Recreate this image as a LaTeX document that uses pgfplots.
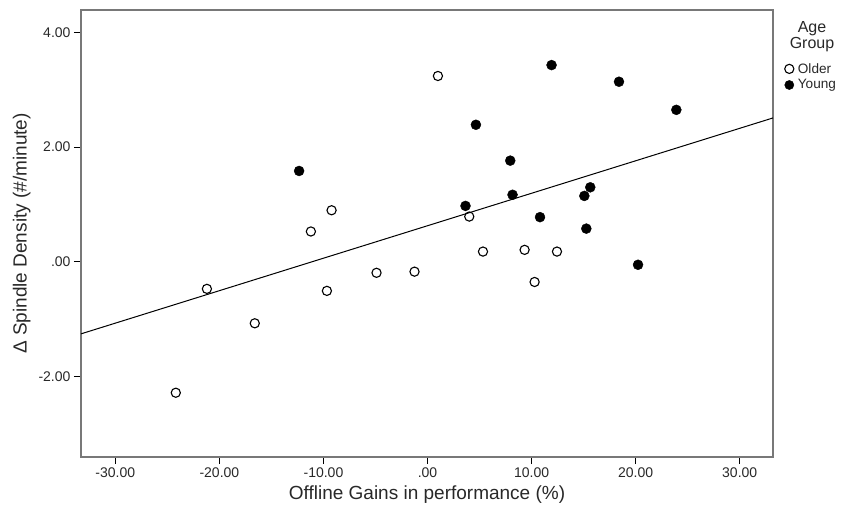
\documentclass[border=0pt]{standalone}
\usepackage{fontspec}
\setmainfont{Liberation Sans}
\usepackage{pgfplots}
\pgfplotsset{compat=1.18}
\definecolor{boxgray}{RGB}{120,120,120}
\definecolor{txt}{RGB}{40,40,40}
\begin{document}
\begin{tikzpicture}
\begin{axis}[
  name=ax,
  scale only axis,
  width=692pt, height=447pt,
  xmin=-33.3, xmax=33.2,
  ymin=-3.40, ymax=4.39,
  axis line style={boxgray, line width=1.2pt},
  xtick={-30,-20,-10,0,10,20,30},
  xticklabels={-30.00,-20.00,-10.00,.00,10.00,20.00,30.00},
  ytick={-2,0,2,4},
  yticklabels={-2.00,.00,2.00,4.00},
  tick align=outside,
  xtick pos=bottom, ytick pos=left,
  major tick length=7pt,
  tick style={black, line width=1pt},
  ticklabel style={font=\fontsize{14}{16}\selectfont, text=txt},
  xlabel={Offline Gains in performance (\%)},
  ylabel={Δ Spindle Density (\#/minute)},
  label style={font=\fontsize{19}{21}\selectfont, text=txt},
  xlabel style={yshift=-1pt},
  ylabel style={yshift=1pt},
  legend image code/.code={\draw[#1, mark size=4.6pt] plot coordinates {(0pt,0pt)};},
  legend style={at={(1.0,1.0)}, anchor=north west, draw=none, fill=none,
    font=\fontsize{13.6}{15}\selectfont, text=txt, inner sep=0pt, row sep=3pt,
    column sep=3pt,
    nodes={inner sep=1pt}, xshift=11.5pt, yshift=-52pt},
  legend cell align=left,
  clip=false,
]
\addplot[only marks, mark=o, mark size=4.6pt, mark options={line width=1.1pt, draw=black, fill=white}] coordinates {
(-24.19,-2.28) (-21.2,-0.47) (-16.6,-1.07) (-11.21,0.53) (-9.67,-0.505)
(-9.22,0.90) (-4.9,-0.19) (-1.25,-0.17) (1.0,3.24) (4.01,0.79)
(5.33,0.18) (9.33,0.21) (10.29,-0.35) (12.44,0.18)
};
\addlegendentry{Older}
\addplot[only marks, mark=*, mark size=5pt, mark options={draw=black, fill=black}] coordinates {
(-12.34,1.585) (3.65,0.976) (4.65,2.39) (7.95,1.765) (8.17,1.17)
(10.81,0.78) (11.92,3.43) (15.07,1.15) (15.26,0.58) (15.64,1.30)
(18.4,3.14) (20.23,-0.05) (23.91,2.65)
};
\addlegendentry{Young}
\addplot[black, line width=1pt, forget plot] coordinates {(-33.3,-1.254) (33.2,2.509)};
\end{axis}
\node[font=\fontsize{16}{17}\selectfont, text=txt, align=center, anchor=north] at ([xshift=39pt,yshift=-8pt]ax.north east) {Age\\[-1pt]Group};
\path ([xshift=-81pt,yshift=-57pt]ax.south west) rectangle ++(841pt,514pt);
\end{tikzpicture}
\end{document}
